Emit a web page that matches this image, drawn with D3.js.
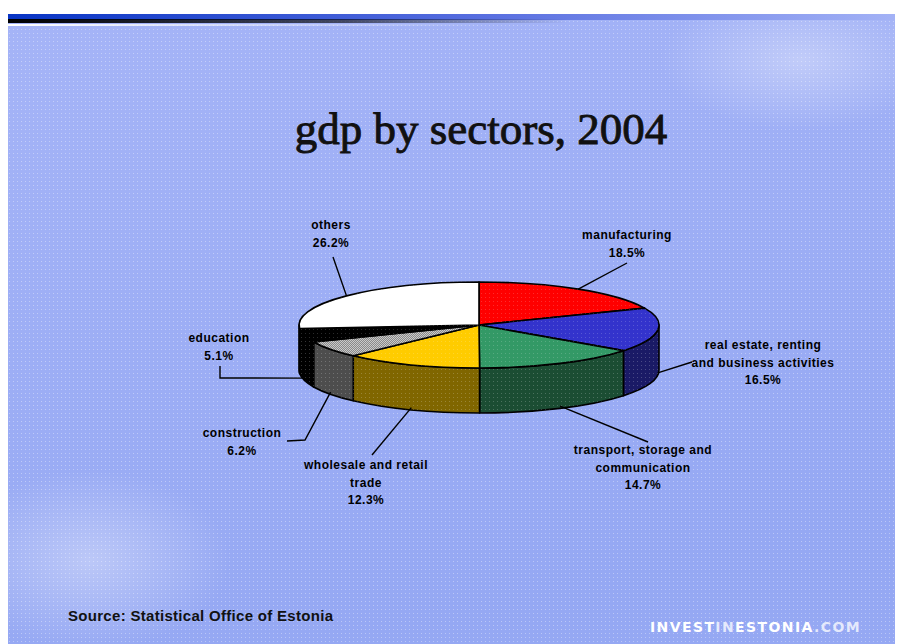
<!DOCTYPE html>
<html>
<head>
<meta charset="utf-8">
<script src="https://cdn.jsdelivr.net/npm/d3@7"></script>
<style>
  html, body { margin: 0; padding: 0; background: #ffffff; }
  svg { display: block; }
</style>
</head>
<body>
<div id="chart"></div>
<script>
// data
var sectors = ["manufacturing", "real estate, renting and business activities",
  "transport, storage and communication", "wholesale and retail trade",
  "construction", "education", "others"];
var shares = [18.5, 16.5, 14.7, 12.3, 6.2, 5.1, 26.2];
var labelLines = [
  ["manufacturing"],
  ["real estate, renting", "and business activities"],
  ["transport, storage and", "communication"],
  ["wholesale and retail", "trade"],
  ["construction"],
  ["education"],
  ["others"]
];
var topColors = ["#ff0000", "#3333cc", "#339966", "#ffcc00", "#9a9a9a", "#000000", "#ffffff"];
var sideColors = ["#800000", "#1a1a66", "#1b4d33", "#806600", "#4d4d4d", "#000000", "#808080"];

// layout of the labels and their leader lines
var labelPos = [
  { x: 627, y: 239, leader: [[627, 263]], anchor: "top" },
  { x: 763, y: 349, leader: [[692, 362]], anchor: "side" },
  { x: 643, y: 454, leader: [[648, 442]], anchor: "side" },
  { x: 366, y: 469, leader: [[372, 455]], anchor: "side" },
  { x: 242, y: 437, leader: [[287, 441], [305, 440]], anchor: "side" },
  { x: 219, y: 342, leader: [[220, 366], [220, 378]], anchor: "side" },
  { x: 331, y: 229, leader: [[333, 257]], anchor: "top" }
];

var W = 903, H = 644;
var cx = 479, cy = 325, rx = 180, ry = 43, depth = 45;

var svg = d3.select("#chart").append("svg")
  .attr("width", W).attr("height", H);
var defs = svg.append("defs");

var bg = defs.append("linearGradient").attr("id", "bg")
  .attr("x1", 0).attr("y1", 0).attr("x2", 0.3).attr("y2", 1);
bg.append("stop").attr("offset", 0).attr("stop-color", "#a5b4f7");
bg.append("stop").attr("offset", 1).attr("stop-color", "#95a8f3");

var band = defs.append("linearGradient").attr("id", "band");
band.append("stop").attr("offset", 0).attr("stop-color", "#0834c4");
band.append("stop").attr("offset", 0.55).attr("stop-color", "#5a70e0");
band.append("stop").attr("offset", 1).attr("stop-color", "#a3b2f6");
var dark = defs.append("linearGradient").attr("id", "dark");
dark.append("stop").attr("offset", 0).attr("stop-color", "#000000");
dark.append("stop").attr("offset", 0.6).attr("stop-color", "#000000").attr("stop-opacity", 0.6);
dark.append("stop").attr("offset", 1).attr("stop-color", "#000000").attr("stop-opacity", 0);
var pale = defs.append("linearGradient").attr("id", "pale");
pale.append("stop").attr("offset", 0).attr("stop-color", "#ffffff");
pale.append("stop").attr("offset", 0.65).attr("stop-color", "#ffffff").attr("stop-opacity", 0.3);
pale.append("stop").attr("offset", 1).attr("stop-color", "#ffffff").attr("stop-opacity", 0);

var glow = defs.append("radialGradient").attr("id", "glow");
glow.append("stop").attr("offset", 0).attr("stop-color", "#ffffff").attr("stop-opacity", 0.35);
glow.append("stop").attr("offset", 1).attr("stop-color", "#ffffff").attr("stop-opacity", 0);

var dots = defs.append("pattern").attr("id", "dots")
  .attr("width", 4).attr("height", 4).attr("patternUnits", "userSpaceOnUse");
dots.append("rect").attr("x", 1).attr("y", 1).attr("width", 1).attr("height", 1)
  .attr("fill", "#ffffff").attr("opacity", 0.35);

var chk = defs.append("pattern").attr("id", "chk")
  .attr("width", 2).attr("height", 2).attr("patternUnits", "userSpaceOnUse");
chk.append("rect").attr("width", 2).attr("height", 2).attr("fill", "#8a8a8a");
chk.append("rect").attr("width", 1).attr("height", 1).attr("fill", "#c8c8c8");
chk.append("rect").attr("x", 1).attr("y", 1).attr("width", 1).attr("height", 1).attr("fill", "#c8c8c8");

// slide background
svg.append("rect").attr("x", 8).attr("y", 14).attr("width", W - 16).attr("height", H - 14)
  .attr("fill", "url(#bg)");
svg.append("ellipse").attr("cx", 800).attr("cy", 60).attr("rx", 140).attr("ry", 70)
  .attr("fill", "url(#glow)");
svg.append("ellipse").attr("cx", 90).attr("cy", 560).attr("rx", 140).attr("ry", 90)
  .attr("fill", "url(#glow)");
svg.append("rect").attr("x", 8).attr("y", 14).attr("width", W - 16).attr("height", H - 14)
  .attr("fill", "url(#dots)");
svg.append("rect").attr("x", 8).attr("y", 14).attr("width", W - 16).attr("height", 6)
  .attr("fill", "url(#band)");
svg.append("rect").attr("x", 8).attr("y", 19).attr("width", 560).attr("height", 4)
  .attr("fill", "url(#dark)");
svg.append("rect").attr("x", 8).attr("y", 24).attr("width", 480).attr("height", 2)
  .attr("fill", "url(#pale)");

// title
svg.append("text")
  .attr("x", 481).attr("y", 144)
  .attr("text-anchor", "middle")
  .style("font-family", "'Liberation Serif', 'DejaVu Serif', serif")
  .style("font-size", "45px")
  .attr("fill", "#111111").attr("stroke", "#111111").attr("stroke-width", 0.9)
  .text("gdp by sectors, 2004");

// 3d pie
var pie = d3.pie().sort(null).startAngle(0).endAngle(2 * Math.PI);
var arcs = pie(shares);

function pt(a, dy) {
  return [cx + rx * Math.sin(a), cy - ry * Math.cos(a) + (dy || 0)];
}
function topPath(d) {
  var p0 = pt(d.startAngle), p1 = pt(d.endAngle);
  var large = d.endAngle - d.startAngle > Math.PI ? 1 : 0;
  return "M" + cx + "," + cy + "L" + p0 + "A" + rx + "," + ry + " 0 " + large + " 1 " + p1 + "Z";
}
function sidePath(a0, a1) {
  var p0 = pt(a0), p1 = pt(a1), q0 = pt(a0, depth), q1 = pt(a1, depth);
  return "M" + p0 + "A" + rx + "," + ry + " 0 0 1 " + p1 + "L" + q1 +
    "A" + rx + "," + ry + " 0 0 0 " + q0 + "Z";
}

var g = svg.append("g");
var front = arcs.map(function (d, i) {
  return {
    i: i,
    a0: Math.max(d.startAngle, Math.PI / 2),
    a1: Math.min(d.endAngle, 3 * Math.PI / 2)
  };
}).filter(function (s) { return s.a1 > s.a0; });

g.selectAll("path.side").data(front).enter().append("path")
  .attr("class", "side")
  .attr("d", function (s) { return sidePath(s.a0, s.a1); })
  .attr("fill", function (s) { return sideColors[s.i]; })
  .attr("stroke", "#000").attr("stroke-width", 1.6).attr("stroke-linejoin", "round");
g.selectAll("path.sidedots").data(front).enter().append("path")
  .attr("d", function (s) { return sidePath(s.a0, s.a1); })
  .attr("fill", "url(#dots)").attr("opacity", 0.6);

g.selectAll("path.top").data(arcs).enter().append("path")
  .attr("class", "top")
  .attr("d", topPath)
  .attr("fill", function (d, i) { return i === 4 ? "url(#chk)" : topColors[i]; })
  .attr("stroke", "#000").attr("stroke-width", 1.6).attr("stroke-linejoin", "round");
g.selectAll("path.topdots").data(arcs).enter().append("path")
  .attr("d", topPath)
  .attr("fill", "url(#dots)").attr("opacity", 0.5);

// leader lines
arcs.forEach(function (d, i) {
  var mid = (d.startAngle + d.endAngle) / 2;
  var lp = labelPos[i];
  var end = lp.anchor === "top" ? pt(mid) : pt(mid, depth * 0.95);
  var pts = lp.leader.concat([end]);
  svg.append("path")
    .attr("d", d3.line()(pts))
    .attr("fill", "none").attr("stroke", "#000").attr("stroke-width", 1.4);
});

// labels
var lab = svg.append("g")
  .style("font-family", "'Liberation Sans', Arial, sans-serif")
  .style("font-size", "12px").style("font-weight", "bold")
  .style("letter-spacing", "0.5px")
  .attr("fill", "#000").attr("text-anchor", "middle");
labelLines.forEach(function (lines, i) {
  var lp = labelPos[i];
  lines.concat([shares[i].toFixed(1) + "%"]).forEach(function (t, k) {
    lab.append("text").attr("x", lp.x).attr("y", lp.y + k * 17.5).text(t);
  });
});

// footer
svg.append("text").attr("x", 68).attr("y", 621)
  .style("font-family", "'Liberation Sans', Arial, sans-serif")
  .style("font-size", "15px").style("font-weight", "bold")
  .style("letter-spacing", "0.3px")
  .attr("fill", "#111").text("Source: Statistical Office of Estonia");
var ft = svg.append("text").attr("x", 650).attr("y", 632)
  .style("font-family", "'DejaVu Sans', sans-serif")
  .style("font-size", "14px").style("font-weight", "bold")
  .style("letter-spacing", "1.4px").attr("fill", "#ffffff");
ft.append("tspan").text("INVEST");
ft.append("tspan").attr("fill-opacity", 0.75).text("IN");
ft.append("tspan").text("ESTONIA");
ft.append("tspan").attr("fill-opacity", 0.75).text(".COM");
</script>
</body>
</html>
